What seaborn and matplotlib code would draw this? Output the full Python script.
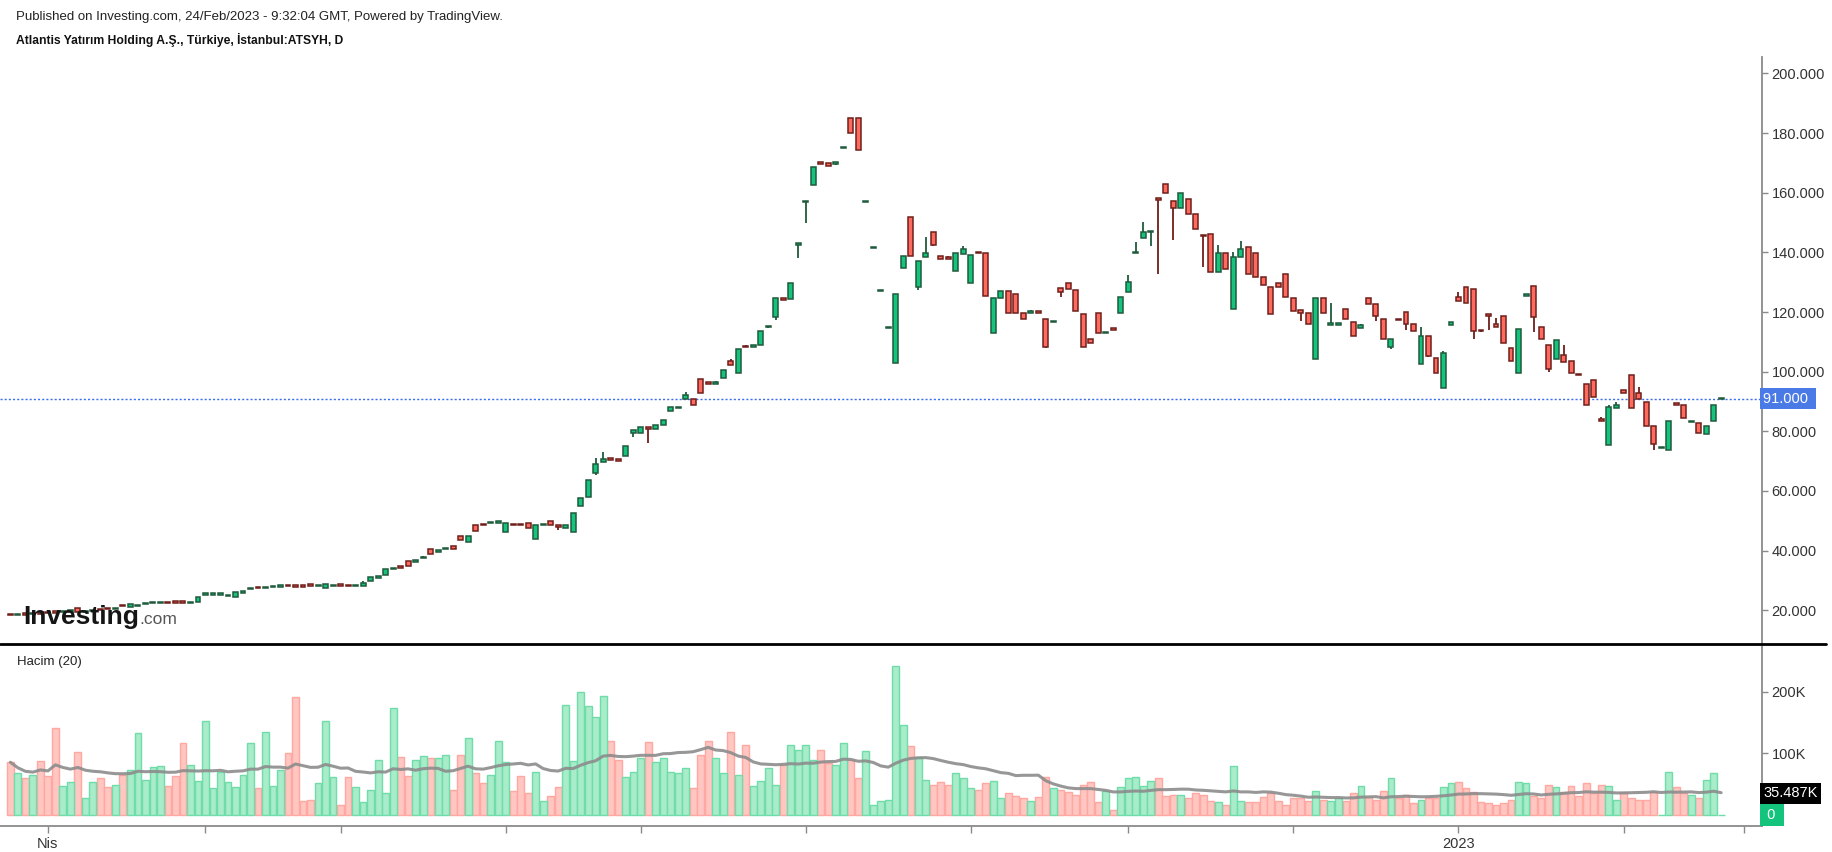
import numpy as np
import pandas as pd
import matplotlib
matplotlib.use("Agg")
import matplotlib.pyplot as plt
import matplotlib.transforms as mtransforms
from matplotlib.lines import Line2D
import seaborn as sns

# ---------------- data ----------------
opens = [
    18.7, 18.6, 18.8, 18.8, 19.2, 19.2, 19.5, 19.4, 19.6, 20.6,
    19.5, 19.8, 20.4, 20.6, 20.5, 21.7, 20.95, 21.7, 22.2, 22.5,
    22.5, 22.6, 22.8, 22.8, 22.7, 22.7, 25.4, 25.4, 25.4, 24.85,
    24.3, 25.7, 27.4, 27.7, 27.6, 27.9, 28.1, 28.4, 28.2, 28.2,
    28.5, 28.3, 27.6, 28.3, 28.5, 28.4, 28.3, 28.0, 29.9, 31.2,
    31.7, 34.0, 34.8, 36.5, 36.5, 37.6, 40.7, 39.9, 40.7, 41.6,
    45.0, 43.0, 48.6, 48.8, 49.4, 49.6, 46.1, 48.8, 48.8, 49.4,
    43.8, 48.7, 49.8, 48.3, 47.7, 46.1, 54.9, 58.0, 66.0, 69.6,
    70.8, 70.6, 71.6, 79.4, 79.4, 81.6, 80.9, 82.0, 86.7, 88.0,
    90.8, 90.9, 97.6, 96.7, 95.8, 98.0, 103.5, 99.6, 108.6, 108.4,
    108.8, 115.2, 118.4, 124.8, 124.3, 142.8, 157.1, 162.7, 170.0, 170.0,
    170.0, 175.1, 185.0, 185.0, 157.1, 141.7, 127.2, 114.8, 102.9, 134.8,
    152.0, 128.3, 138.6, 147.0, 138.7, 138.2, 133.9, 139.5, 129.7, 140.0,
    139.9, 113.0, 124.7, 126.9, 126.1, 119.8, 120.0, 120.1, 117.7, 116.9,
    128.1, 129.9, 127.4, 119.4, 111.1, 119.8, 113.1, 114.8, 119.7, 126.7,
    139.9, 144.8, 147.0, 158.1, 162.9, 157.1, 154.9, 157.9, 152.9, 145.8,
    146.2, 133.5, 139.8, 121.0, 138.6, 141.9, 139.9, 131.9, 128.5, 129.6,
    132.8, 124.7, 120.6, 119.7, 104.3, 124.7, 116.0, 116.0, 121.0, 116.8,
    114.8, 124.7, 122.7, 117.7, 108.4, 117.6, 120.1, 116.0, 102.6, 111.9,
    104.6, 94.6, 115.5, 124.9, 128.5, 127.7, 113.9, 119.0, 116.0, 118.6,
    108.0, 99.6, 125.7, 128.6, 115.1, 108.8, 104.2, 105.5, 103.5, 99.2,
    95.9, 97.3, 83.9, 75.4, 87.9, 93.9, 98.8, 92.9, 89.7, 81.8,
    74.6, 73.7, 89.6, 88.8, 83.3, 82.9, 79.2, 83.3, 91.0,
]
highs = [
    18.7, 18.6, 18.8, 19.0, 19.2, 19.2, 19.6, 19.6, 20.0, 20.7,
    19.9, 20.2, 20.4, 20.6, 20.6, 21.7, 21.95, 21.8, 22.2, 22.8,
    22.5, 22.6, 22.8, 22.8, 22.7, 24.4, 25.4, 25.4, 25.4, 24.85,
    26.0, 26.5, 27.4, 27.7, 27.6, 27.9, 28.1, 28.4, 28.2, 28.2,
    28.5, 28.3, 28.65, 28.3, 28.5, 28.4, 28.3, 29.9, 31.2, 31.2,
    33.7, 34.0, 34.8, 36.5, 36.5, 38.3, 40.7, 39.9, 40.7, 41.6,
    45.0, 44.8, 48.6, 48.8, 49.4, 49.6, 49.1, 48.8, 48.8, 49.4,
    48.7, 48.7, 49.8, 48.3, 48.7, 52.7, 57.8, 63.6, 71.0, 73.1,
    70.8, 70.6, 75.0, 80.5, 81.6, 81.6, 82.2, 83.9, 88.0, 88.0,
    93.1, 90.9, 97.6, 96.7, 97.0, 100.4, 104.2, 107.6, 109.0, 109.0,
    113.6, 115.2, 124.8, 124.8, 129.9, 142.8, 157.1, 168.8, 170.0, 170.0,
    170.0, 175.1, 185.0, 185.0, 157.1, 141.7, 127.2, 114.8, 126.1, 138.7,
    152.0, 137.0, 145.0, 147.0, 138.7, 138.9, 139.9, 142.3, 139.2, 140.0,
    139.9, 124.8, 126.9, 126.9, 126.1, 119.8, 120.7, 120.1, 117.7, 116.9,
    128.1, 129.9, 127.4, 119.4, 111.1, 119.8, 113.1, 114.8, 125.2, 132.5,
    143.4, 150.1, 147.1, 158.1, 162.9, 157.1, 159.9, 157.9, 152.9, 145.8,
    146.2, 142.5, 139.8, 140.0, 143.7, 141.9, 139.9, 131.9, 128.5, 129.6,
    132.8, 124.7, 120.6, 119.7, 124.7, 124.7, 123.0, 116.0, 121.0, 116.8,
    116.0, 124.7, 122.7, 117.7, 111.0, 117.6, 120.1, 116.0, 114.9, 111.9,
    104.6, 106.9, 116.8, 126.6, 128.5, 127.7, 113.9, 119.0, 117.9, 118.6,
    108.0, 114.4, 125.7, 128.6, 115.1, 108.8, 110.6, 109.1, 103.5, 99.2,
    95.9, 97.3, 84.8, 88.9, 89.7, 93.9, 98.8, 94.8, 89.7, 81.8,
    74.6, 83.3, 89.6, 88.8, 83.3, 82.9, 81.7, 88.8, 91.0,
]
lows = [
    18.6, 18.6, 18.7, 18.8, 19.0, 19.1, 19.3, 19.4, 19.6, 19.5,
    19.5, 19.8, 20.2, 20.5, 20.5, 21.5, 20.95, 21.7, 22.2, 22.5,
    22.5, 22.5, 22.7, 22.7, 22.7, 22.7, 25.4, 25.4, 25.4, 24.85,
    24.3, 25.7, 27.4, 27.6, 27.6, 27.9, 28.1, 28.3, 28.1, 28.1,
    28.4, 28.3, 27.6, 28.3, 28.4, 28.3, 28.3, 28.0, 29.9, 31.2,
    31.7, 34.0, 34.0, 34.8, 36.5, 37.6, 39.0, 39.9, 40.7, 40.6,
    43.5, 43.0, 46.5, 48.7, 49.4, 49.6, 46.1, 48.7, 48.7, 47.7,
    43.8, 48.7, 48.5, 46.8, 47.7, 46.1, 54.9, 58.0, 65.5, 69.6,
    70.7, 70.0, 71.6, 78.1, 79.4, 76.1, 80.9, 82.0, 86.7, 88.0,
    90.8, 88.7, 92.9, 95.9, 95.8, 98.0, 102.1, 99.6, 108.5, 108.4,
    108.8, 114.6, 117.4, 124.1, 124.3, 138.1, 150.0, 162.7, 169.9, 169.0,
    169.4, 175.1, 180.0, 174.5, 157.1, 141.7, 127.2, 114.8, 102.9, 134.8,
    138.9, 127.4, 138.6, 142.2, 137.8, 138.1, 133.9, 139.5, 129.7, 139.9,
    125.5, 113.0, 124.7, 119.7, 119.7, 117.6, 120.0, 120.0, 107.9, 116.9,
    124.9, 127.6, 120.5, 108.4, 109.7, 113.1, 113.1, 113.9, 119.7, 126.7,
    139.9, 144.8, 142.3, 132.8, 159.9, 144.3, 154.9, 152.9, 147.8, 135.0,
    133.5, 133.5, 134.4, 121.0, 138.6, 132.8, 131.9, 129.1, 119.4, 128.5,
    125.2, 120.3, 117.1, 116.0, 104.3, 119.7, 116.0, 116.0, 117.7, 112.1,
    114.8, 122.7, 117.1, 111.0, 107.5, 117.5, 114.1, 113.8, 102.6, 104.9,
    99.6, 94.6, 115.5, 123.6, 123.0, 110.8, 113.4, 114.1, 114.9, 109.7,
    103.7, 99.6, 125.7, 113.2, 110.9, 99.8, 104.2, 103.4, 99.6, 99.1,
    88.8, 91.6, 83.8, 75.4, 87.9, 92.9, 87.9, 90.9, 81.7, 73.9,
    74.6, 73.7, 88.8, 84.5, 83.3, 79.5, 79.2, 83.3, 91.0,
]
closes = [
    18.6, 18.6, 18.7, 19.0, 19.0, 19.1, 19.3, 19.6, 20.0, 19.5,
    19.8, 20.1, 20.2, 20.5, 20.6, 21.6, 21.95, 21.7, 22.2, 22.5,
    22.5, 22.5, 22.7, 22.7, 22.7, 24.4, 25.4, 25.4, 25.4, 24.85,
    26.0, 26.5, 27.4, 27.6, 27.6, 27.9, 28.1, 28.3, 28.1, 28.1,
    28.4, 28.3, 28.65, 28.3, 28.4, 28.3, 28.3, 29.2, 31.2, 31.2,
    33.7, 34.0, 34.0, 34.8, 36.5, 37.6, 39.0, 39.9, 40.7, 40.6,
    43.5, 44.8, 46.5, 48.7, 49.4, 49.6, 49.1, 48.7, 48.7, 47.7,
    48.7, 48.7, 48.5, 48.2, 48.7, 52.7, 57.8, 63.6, 69.0, 70.8,
    70.7, 70.0, 75.0, 80.5, 81.6, 80.9, 82.2, 83.9, 88.0, 88.0,
    92.2, 88.7, 92.9, 95.9, 96.4, 100.4, 102.1, 107.6, 108.5, 109.0,
    113.6, 115.2, 124.8, 124.1, 129.9, 142.8, 157.1, 168.8, 169.9, 169.0,
    170.0, 175.1, 180.0, 174.5, 157.1, 141.7, 127.2, 114.8, 126.1, 138.7,
    138.9, 137.0, 139.9, 142.6, 137.8, 138.1, 139.9, 141.1, 139.2, 139.9,
    125.5, 124.8, 126.9, 119.7, 119.7, 117.6, 120.0, 120.0, 108.4, 116.9,
    126.7, 127.6, 120.5, 108.4, 109.7, 113.1, 113.1, 113.9, 125.2, 130.2,
    140.0, 147.0, 147.1, 157.8, 159.9, 154.9, 159.9, 152.9, 147.8, 145.5,
    133.5, 139.8, 134.4, 138.6, 141.1, 132.8, 131.9, 129.1, 119.4, 128.5,
    125.2, 120.3, 119.7, 116.0, 124.7, 119.7, 116.0, 116.0, 117.7, 112.1,
    115.7, 122.7, 118.8, 111.0, 111.0, 117.5, 116.0, 113.8, 111.9, 105.4,
    99.6, 106.3, 116.8, 123.6, 123.0, 113.8, 113.8, 118.9, 114.9, 109.7,
    103.7, 114.4, 125.7, 118.5, 110.9, 100.9, 110.6, 103.4, 99.6, 99.1,
    88.8, 91.6, 83.8, 88.1, 88.9, 92.9, 87.9, 90.9, 81.7, 75.9,
    74.6, 83.3, 88.8, 84.5, 83.3, 79.5, 81.7, 88.8, 91.0,
]
volume_k = [
    85.7, 67.8, 59.6, 65.6, 87.8, 63.4, 141.0, 47.2, 53.1, 101.9,
    27.1, 53.1, 59.6, 45.5, 49.3, 65.6, 73.7, 132.8, 56.9, 78.0,
    79.7, 47.2, 63.4, 116.5, 81.8, 55.3, 152.8, 43.4, 69.4, 53.1,
    45.5, 65.6, 116.5, 43.4, 134.4, 47.2, 73.7, 100.3, 191.3, 22.8,
    24.9, 51.5, 152.8, 61.3, 16.8, 61.3, 45.0, 20.6, 40.7, 90.0,
    35.2, 173.4, 93.7, 63.4, 90.0, 95.9, 92.1, 92.1, 98.1, 41.2,
    98.1, 124.7, 67.8, 51.5, 65.6, 120.3, 85.7, 39.0, 63.4, 35.2,
    69.4, 22.8, 30.9, 45.0, 179.4, 87.8, 199.5, 177.2, 158.8, 193.5,
    120.3, 90.0, 61.3, 69.4, 92.1, 118.2, 85.7, 92.1, 69.4, 67.8,
    75.9, 43.4, 98.1, 120.3, 92.1, 67.8, 134.4, 65.6, 114.4, 47.2,
    55.3, 75.9, 49.3, 81.8, 114.4, 106.2, 114.4, 90.0, 106.2, 84.0,
    81.8, 116.5, 90.0, 59.6, 104.0, 16.8, 22.8, 24.9, 242.3, 146.9,
    112.2, 93.7, 57.5, 49.3, 53.1, 49.3, 67.8, 59.6, 43.4, 41.2,
    51.5, 55.3, 27.1, 35.2, 30.9, 27.1, 22.8, 28.7, 61.3, 43.4,
    41.2, 36.9, 33.1, 49.3, 53.1, 20.6, 39.0, 8.7, 45.0, 59.6,
    61.3, 47.2, 55.3, 59.6, 30.9, 33.1, 33.1, 27.1, 35.2, 33.1,
    22.8, 20.6, 16.8, 79.7, 22.8, 20.6, 20.6, 28.7, 35.2, 22.8,
    16.8, 27.1, 27.1, 22.8, 39.0, 24.9, 22.8, 27.1, 22.8, 35.2,
    47.2, 28.7, 24.9, 39.0, 59.6, 27.1, 33.1, 19.0, 24.9, 27.1,
    27.1, 45.0, 51.5, 53.1, 43.4, 36.9, 20.6, 19.0, 16.8, 19.0,
    24.9, 53.1, 51.5, 30.9, 27.1, 49.3, 45.0, 36.9, 47.2, 30.9,
    51.5, 35.2, 49.3, 47.2, 24.9, 36.9, 27.1, 24.9, 24.9, 36.9,
    0.5, 69.4, 45.0, 35.2, 33.1, 27.1, 57.5, 67.8, 0.5,
]
first_day = "2022-03-25"
calendar_end = "2023-03-01"
holidays = ["2022-05-02", "2022-05-03", "2022-05-04", "2022-05-19",
            "2022-07-11", "2022-07-12", "2022-07-15", "2022-08-30",
            "2023-02-09", "2023-02-10", "2023-02-13", "2023-02-14"]
month_names = {4: "Nis", 1: "2023"}
price_ticks = [20, 40, 60, 80, 100, 120, 140, 160, 180, 200]
volume_ticks = [100000, 200000]
volume_tick_labels = ["100K", "200K"]
last_price = 91.0
ma_label = "35.487K"
ma_window = 20
title1 = "Published on Investing.com, 24/Feb/2023 - 9:32:04 GMT, Powered by TradingView."
title2 = "Atlantis Yatırım Holding A.Ş., Türkiye, İstanbul:ATSYH, D"

# ---------------- frame ----------------
n = len(closes)
df = pd.DataFrame({"open": opens, "high": highs, "low": lows, "close": closes,
                   "vol": np.array(volume_k) * 1000.0})
df["idx"] = np.arange(n)
df["high"] = df[["high", "open", "close"]].max(axis=1)
df["low"] = df[["low", "open", "close"]].min(axis=1)
df["dir"] = np.where(df["close"] >= df["open"], "up", "down")
df["ma"] = df["vol"].rolling(ma_window, min_periods=1).mean()

cal = pd.bdate_range(first_day, calendar_end)
cal = cal[~cal.isin(pd.to_datetime(holidays))]
month_pos, month_lab = [], []
for k in range(1, len(cal)):
    if cal[k].month != cal[k - 1].month:
        month_pos.append(k)
        month_lab.append(month_names.get(cal[k].month, ""))

# ---------------- style ----------------
sns.set_theme(style="white")
plt.rcParams["font.family"] = ["Liberation Sans", "DejaVu Sans"]

G_FILL, G_EDGE = "#14c47c", "#1f5a3c"
R_FILL, R_EDGE = "#ff6a5f", "#6f1f1a"
VG_FILL, VG_EDGE = "#a8ecca", "#6fdcaa"
VR_FILL, VR_EDGE = "#ffc6c2", "#ffa7a1"
AX_COL = "#8a8a8a"
TXT = "#333333"

W, H = 1833, 852
fig = plt.figure(figsize=(W / 100, H / 100), dpi=100, facecolor="white")


def frac(x0, y0, x1, y1):
    return [x0 / W, 1 - y1 / H, (x1 - x0) / W, (y1 - y0) / H]


axp = fig.add_axes(frac(0, 57, 1762, 644))
axv = fig.add_axes(frac(0, 644, 1762, 826))
XL = (-1.386, 233.45)

# ---------------- candles ----------------
up = df["dir"] == "up"
fill = np.where(up, G_FILL, R_FILL)
edge = np.where(up, G_EDGE, R_EDGE)
mid = (df["open"] + df["close"]) / 2
bh = np.maximum((df["close"] - df["open"]).abs(), 0.45)
axp.vlines(df["idx"], df["low"], df["high"], colors=edge, lw=1.3, zorder=2)
axp.bar(df["idx"], bh, bottom=mid - bh / 2, width=0.66, color=fill,
        edgecolor=edge, linewidth=1.1, zorder=3)

axp.axhline(last_price, color="#3d6ef0", lw=1.0, ls=(0, (1.5, 1.5)), zorder=1)
axp.set_xlim(*XL)
axp.set_ylim(8.68, 205.52)
axp.yaxis.tick_right()
axp.set_yticks(price_ticks)
axp.set_yticklabels([f"{v:.3f}" for v in price_ticks])
axp.tick_params(axis="y", right=True, direction="out", length=4, width=1,
                color=AX_COL, labelcolor=TXT, labelsize=10.5, pad=3)
axp.set_xticks([])
for s in ["left", "top", "bottom"]:
    axp.spines[s].set_visible(False)
axp.spines["right"].set_color(AX_COL)
axp.spines["right"].set_linewidth(1.3)
axp.set_xlabel("")
axp.set_ylabel("")

tr = mtransforms.blended_transform_factory(axp.transAxes, axp.transData)
axp.text(1.0008, last_price, "91.000 ", transform=tr, ha="left", va="center",
         color="white", fontsize=10.5,
         bbox=dict(boxstyle="square,pad=0.25", fc="#4a7ae6", ec="none"), zorder=6,
         clip_on=False)

# ---------------- volume ----------------
sns.barplot(data=df, x="idx", y="vol", hue="dir", palette={"up": VG_FILL, "down": VR_FILL},
            native_scale=True, dodge=False, width=0.92, errorbar=None, saturation=1,
            legend=False, ax=axv, linewidth=1.0)
gf = matplotlib.colors.to_rgba(VG_FILL)
for p in axv.patches:
    fc = p.get_facecolor()
    same = np.allclose(fc[:3], gf[:3], atol=0.02)
    p.set_edgecolor(VG_EDGE if same else VR_EDGE)
    p.set_linewidth(1.0)
sns.lineplot(data=df, x="idx", y="ma", ax=axv, color="#8c8c8c", lw=2.2, alpha=0.9)

axv.set_xlim(*XL)
axv.set_ylim(-17900, 278000)
axv.yaxis.tick_right()
axv.set_yticks(volume_ticks)
axv.set_yticklabels(volume_tick_labels)
axv.tick_params(axis="y", right=True, left=False, direction="out", length=4, width=1,
                color=AX_COL, labelcolor=TXT, labelsize=10.5, pad=3)
axv.set_xticks(month_pos)
axv.set_xticklabels(month_lab)
axv.tick_params(axis="x", bottom=True, direction="out", length=5, width=1,
                color=AX_COL, labelcolor=TXT, labelsize=10.5, pad=3)
for s in ["left", "top"]:
    axv.spines[s].set_visible(False)
for s in ["right", "bottom"]:
    axv.spines[s].set_color(AX_COL)
    axv.spines[s].set_linewidth(1.3)
axv.set_xlabel("")
axv.set_ylabel("")

trv = mtransforms.blended_transform_factory(axv.transAxes, axv.transData)
axv.text(1.0008, 35487, ma_label, transform=trv, ha="left", va="center",
         color="white", fontsize=10.5,
         bbox=dict(boxstyle="square,pad=0.25", fc="black", ec="none"), zorder=6, clip_on=False)
axv.text(1.0008, 0, " 0 ", transform=trv, ha="left", va="center",
         color="white", fontsize=10.5,
         bbox=dict(boxstyle="square,pad=0.25", fc="#14c47c", ec="none"), zorder=6, clip_on=False)

# ---------------- decorations ----------------
fig.add_artist(Line2D([0, 1826 / W], [1 - 644 / H, 1 - 644 / H], transform=fig.transFigure,
                      color="black", lw=2))
fig.text(16 / W, 1 - 17 / H, title1, fontsize=9.5, color="#222222", va="center")
fig.text(16 / W, 1 - 40 / H, title2, fontsize=8.7, color="#111111", va="center",
         fontweight="bold")
fig.text(17 / W, 1 - 662 / H, "Hacim (20)", fontsize=9.5, color="#222222", va="center")
fig.text(23 / W, 1 - 624 / H, "Investing", fontsize=19, fontweight="bold",
         color="#151515", va="baseline")
fig.text(139 / W, 1 - 624 / H, ".com", fontsize=12.5, color="#555555", va="baseline")

fig.savefig("out.png", dpi=100, facecolor="white")
